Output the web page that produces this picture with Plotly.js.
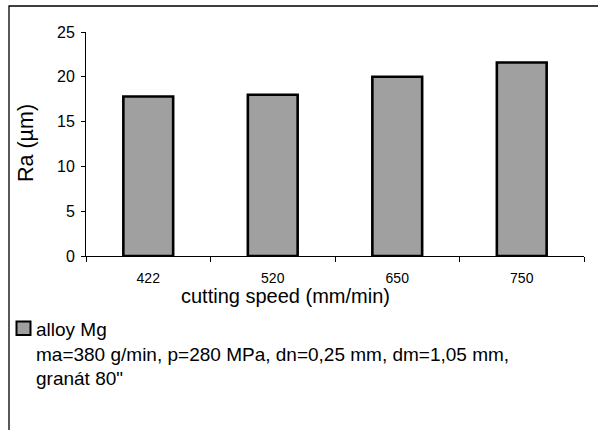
<!DOCTYPE html>
<html>
<head>
<meta charset="utf-8">
<script src="https://cdn.plot.ly/plotly-3.0.1.min.js"></script>
<style>html,body{margin:0;padding:0;background:#fff;}#chart{width:598px;height:430px;}</style>
</head>
<body>
<div id="chart"></div>
<script>
const categories = ['422', '520', '650', '750'];
const raValues = [17.8, 18.0, 20.0, 21.6];
const seriesName = 'alloy Mg';
const noteLines = ['ma=380 g/min, p=280 MPa, dn=0,25 mm, dm=1,05 mm,', 'granát 80"'];
const yTicks = [0, 5, 10, 15, 20, 25];
const xTitle = 'cutting speed (mm/min)';
const yTitle = 'Ra (µm)';

const W = 598, H = 430;
const L = 86, R = 584, T = 32, B = 256;
const px = x => (x - L) / (R - L);
const py = y => (B - y) / (B - T);
const FONT = 'Liberation Sans, Arial, sans-serif';

const trace = {
  type: 'bar',
  x: categories,
  y: raValues,
  name: seriesName,
  width: 0.4,
  marker: {color: '#a0a0a0', line: {color: '#000', width: 2.6}},
  showlegend: false,
  hoverinfo: 'x+y'
};

const layout = {
  width: W, height: H,
  margin: {l: L, r: W - R, t: T, b: H - B, pad: 0},
  paper_bgcolor: '#fff', plot_bgcolor: '#fff',
  font: {family: FONT, color: '#000'},
  bargap: 0.6,
  xaxis: {
    type: 'category',
    tickson: 'boundaries',
    ticks: 'outside', ticklen: 5, tickwidth: 1, tickcolor: '#000',
    ticklabelstandoff: 9,
    showline: true, linecolor: '#000', linewidth: 1,
    showgrid: false, zeroline: false,
    tickfont: {family: FONT, size: 14, color: '#000'},
    automargin: false, fixedrange: true
  },
  yaxis: {
    range: [0, 25],
    tickvals: yTicks,
    ticks: 'outside', ticklen: 4, tickwidth: 1, tickcolor: '#000',
    ticklabelstandoff: 3,
    showline: true, linecolor: '#000', linewidth: 1,
    showgrid: false, zeroline: false,
    tickfont: {family: FONT, size: 16, color: '#000'},
    automargin: false, fixedrange: true
  },
  shapes: [
    {type: 'rect', xref: 'paper', yref: 'paper', layer: 'above',
     x0: px(9), x1: px(605), y0: py(440), y1: py(6),
     line: {color: '#000', width: 1.3}, fillcolor: 'rgba(0,0,0,0)'},
    {type: 'rect', xref: 'paper', yref: 'paper', layer: 'above',
     x0: px(16.5), x1: px(30.5), y0: py(335), y1: py(321.5),
     line: {color: '#000', width: 2}, fillcolor: '#a0a0a0'}
  ],
  annotations: [
    {xref: 'paper', yref: 'paper', x: px(285), y: py(296), xanchor: 'center', yanchor: 'middle',
     showarrow: false, text: xTitle,
     font: {family: FONT, size: 20, color: '#000'}},
    {xref: 'paper', yref: 'paper', x: px(26), y: py(143), xanchor: 'center', yanchor: 'middle',
     showarrow: false, text: yTitle, textangle: -90,
     font: {family: FONT, size: 21.5, color: '#000'}},
    {xref: 'paper', yref: 'paper', x: px(34), y: py(317), xanchor: 'left', yanchor: 'top',
     align: 'left', showarrow: false,
     text: seriesName + '<br>' + noteLines.join('<br>'),
     font: {family: FONT, size: 19, color: '#000'}}
  ]
};

Plotly.newPlot('chart', [trace], layout, {displayModeBar: false, staticPlot: true});
</script>
</body>
</html>
